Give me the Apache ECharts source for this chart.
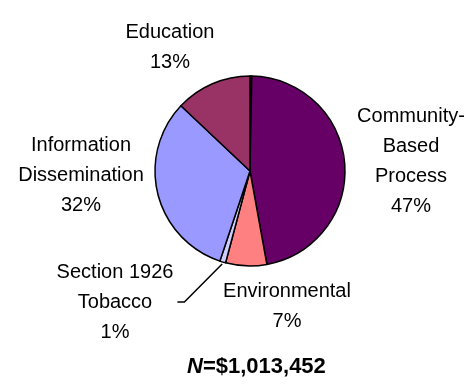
<!DOCTYPE html>
<html>
<head>
<meta charset="utf-8">
<script src="https://cdn.jsdelivr.net/npm/echarts@6/dist/echarts.min.js"></script>
<style>
  html, body { margin: 0; padding: 0; background: #fff; }
  #chart { width: 473px; height: 385px; }
</style>
</head>
<body>
<div id="chart"></div>
<script>
// Share of funding by activity type (percent), clockwise from 12 o'clock
const categories = [
  'Other',
  'Community-\nBased\nProcess',
  'Environmental',
  'Section 1926\nTobacco',
  'Information\nDissemination',
  'Education'
];
const shares = [0.3, 47, 7, 1, 32, 13];
const sliceColors = ['#1a1a1a', '#660066', '#FF8080', '#CCCCFF', '#9999FF', '#993366'];
const totalLabel = 'N=$1,013,452';

// Label anchor points (centre of each label block), in pixels
const labelPos = [
  null,
  [411, 161],
  [287, 306],
  [115, 302],
  [81, 175],
  [170, 47]
];
const leaderIndex = 3;

const chart = echarts.init(document.getElementById('chart'), null, { renderer: 'canvas' });

// Outer-arc point of the leader slice, filled in once the pie is laid out
let leaderAnchor = null;

const data = categories.map((name, i) => ({
  name: name,
  value: shares[i],
  itemStyle: { color: sliceColors[i] },
  label: { show: i !== 0 },
  labelLine: { show: i === leaderIndex }
}));

function buildOption() {
  return {
    animation: false,
    backgroundColor: '#fff',
    graphic: [{
      type: 'text',
      left: 187,
      top: 356,
      style: {
        text: '{i|N}{b|' + totalLabel.slice(1) + '}',
        rich: {
          i: { fontFamily: 'Liberation Sans, Arial, sans-serif', fontSize: 22, fontWeight: 'bold', fontStyle: 'italic', fill: '#000' },
          b: { fontFamily: 'Liberation Sans, Arial, sans-serif', fontSize: 22, fontWeight: 'bold', fill: '#000' }
        }
      }
    }],
    series: [{
      type: 'pie',
      center: [250, 171],
      radius: 95,
      startAngle: 90,
      clockwise: true,
      data: data,
      itemStyle: { borderColor: '#000', borderWidth: 1.5 },
      label: {
        formatter: '{b}\n{c}%',
        fontFamily: 'Liberation Sans, Arial, sans-serif',
        fontSize: 20,
        lineHeight: 30,
        color: '#000',
        align: 'center',
        overflow: 'none'
      },
      labelLine: {
        length: 10,
        length2: 7,
        lineStyle: { color: '#000', width: 1.5 }
      },
      labelLayout: function (params) {
        const p = labelPos[params.dataIndex];
        if (!p) return {};
        const out = { x: p[0], y: p[1], align: 'center', verticalAlign: 'middle' };
        if (params.dataIndex === leaderIndex && leaderAnchor) {
          const right = p[0] + params.labelRect.width / 2;
          out.labelLinePoints = [
            leaderAnchor,
            [right + 11, p[1]],
            [right + 4, p[1]]
          ];
        }
        return out;
      },
      emphasis: { disabled: true }
    }]
  };
}

chart.setOption(buildOption());

// Take the leader's start from the slice geometry the pie computed
const layout = chart.getModel().getSeriesByIndex(0).getData().getItemLayout(leaderIndex);
if (layout) {
  const mid = (layout.startAngle + layout.endAngle) / 2;
  const rr = layout.r + 2;
  leaderAnchor = [layout.cx + rr * Math.cos(mid), layout.cy + rr * Math.sin(mid)];
  chart.setOption(buildOption(), true);
}
</script>
</body>
</html>
